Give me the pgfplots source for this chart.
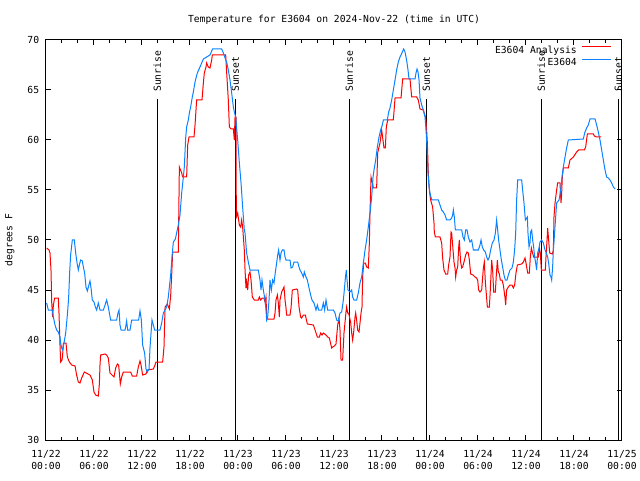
\documentclass[border=0pt]{standalone}
\usepackage{fontspec}
\setmainfont{DejaVu Sans Mono}
\usepackage{pgfplots}
\pgfplotsset{compat=1.18}
\definecolor{anared}{RGB}{255,0,0}
\definecolor{obsblue}{RGB}{10,130,255}

\begin{document}
\fontsize{9.7pt}{12pt}\selectfont
\begin{tikzpicture}
\useasboundingbox (0,0) rectangle (640pt,480pt);
\begin{axis}[
  at={(46pt,40pt)}, anchor=south west,
  scale only axis, width=576pt, height=400pt,
  xmin=0, xmax=72, ymin=30, ymax=70,
  clip=false,
  axis line style={line width=1pt},
  every tick/.style={black, line width=1pt},
  major tick length=5pt, minor tick length=3pt,
  xtick={0,6,...,72},
  minor x tick num=2,
  xticklabels={{11/22\\00:00},{11/22\\06:00},{11/22\\12:00},{11/22\\18:00},
               {11/23\\00:00},{11/23\\06:00},{11/23\\12:00},{11/23\\18:00},
               {11/24\\00:00},{11/24\\06:00},{11/24\\12:00},{11/24\\18:00},
               {11/25\\00:00}},
  xticklabel style={align=center, inner sep=0pt, anchor=north, yshift=-10.4pt},
  ytick={30,35,...,70},
  yticklabel style={inner sep=0pt, anchor=east, xshift=-6.7pt},
  /pgf/number format/assume math mode=true,
  title={Temperature for E3604 on 2024-Nov-22 (time in UTC)},
  title style={at={(0.5,1)}, anchor=base, inner sep=0pt, yshift=11.3pt},
  ylabel={degrees F},
  every axis y label/.style={at={(axis description cs:-0.0582,0.5)}, rotate=90, anchor=base, inner sep=0pt},
  legend plot pos=right,
  legend image code/.code={\draw[#1] (0pt,3.5pt) -- (29pt,3.5pt);},
  legend style={at={(1,1)}, anchor=north east, xshift=-10pt, yshift=-4pt,
    draw=none, fill=none, inner sep=0pt, row sep=0pt,
    cells={anchor=east, inner sep=2pt, text height=7pt, text depth=2pt},
    /tikz/every odd column/.append style={column sep=3pt}},
]

% sunrise / sunset markers
\addplot[black, line width=1pt, forget plot] coordinates {(13.91,30) (13.91,64.1)};
\addplot[black, line width=1pt, forget plot] coordinates {(23.66,30) (23.66,64.1)};
\addplot[black, line width=1pt, forget plot] coordinates {(37.91,30) (37.91,64.1)};
\addplot[black, line width=1pt, forget plot] coordinates {(47.54,30) (47.54,64.1)};
\addplot[black, line width=1pt, forget plot] coordinates {(61.91,30) (61.91,64.1)};
\addplot[black, line width=1pt, forget plot] coordinates {(71.54,30) (71.54,64.1)};
\node[rotate=90, anchor=west, inner sep=0pt] at (axis cs:13.91,64.8) {Sunrise};
\node[rotate=90, anchor=west, inner sep=0pt] at (axis cs:23.66,64.8) {Sunset};
\node[rotate=90, anchor=west, inner sep=0pt] at (axis cs:37.91,64.8) {Sunrise};
\node[rotate=90, anchor=west, inner sep=0pt] at (axis cs:47.54,64.8) {Sunset};
\node[rotate=90, anchor=west, inner sep=0pt] at (axis cs:61.91,64.8) {Sunrise};
\node[rotate=90, anchor=west, inner sep=0pt] at (axis cs:71.54,64.8) {Sunset};

% E3604 Analysis
\addplot[anared, line width=1pt] coordinates {
(0.08,49.2)(0.38,49.0)(0.5,48.7)(0.63,46.9)(0.71,43.8)(0.83,42.3)(0.92,43.5)(1.08,44.2)(1.54,44.2)(1.63,42.6)
(1.75,39.5)(1.83,37.8)(2.0,38.0)(2.08,38.5)(2.17,39.7)(2.5,39.7)(2.67,38.3)(2.92,37.8)(3.21,37.5)(3.63,37.4)
(3.83,36.5)(4.04,35.8)(4.25,35.7)(4.46,36.2)(4.79,36.8)(5.5,36.5)(5.79,36.0)(6.0,34.8)(6.21,34.5)(6.54,34.4)
(6.67,35.6)(6.75,37.5)(6.83,38.5)(7.38,38.6)(7.58,38.5)(7.79,38.2)(8.0,36.7)(8.5,36.3)(8.71,37.2)(8.92,37.6)
(9.08,37.5)(9.17,36.7)(9.29,35.6)(9.46,36.3)(9.67,36.8)(10.58,36.8)(10.79,36.4)(11.33,36.4)(11.54,37.3)(11.75,37.9)
(11.88,37.5)(12.08,36.5)(12.5,36.6)(12.67,37.0)(13.42,37.1)(13.63,37.5)(13.75,37.8)(14.58,37.8)(14.75,39.3)(14.88,43.3)
(15.17,43.6)(15.42,43.1)(15.58,44.4)(15.71,46.5)(15.83,48.8)(16.54,48.8)(16.67,57.3)(16.96,56.7)(17.08,56.3)(17.58,56.3)
(17.71,59.5)(17.88,60.3)(18.5,60.3)(18.63,61.5)(18.83,64.0)(19.5,64.0)(19.67,65.7)(19.79,66.7)(20.0,67.3)(20.08,67.7)
(20.29,67.3)(20.5,67.2)(20.71,68.0)(20.79,68.5)(22.46,68.5)(22.58,66.8)(22.79,64.0)(22.92,61.3)(23.13,61.1)(23.42,61.1)
(23.54,60.0)(23.63,62.3)(23.75,62.3)(23.79,52.3)(23.96,52.7)(24.17,51.5)(24.33,51.3)(24.46,52.0)(24.58,51.3)(24.79,49.0)
(24.88,47.0)(25.0,45.2)(25.08,45.8)(25.21,45.0)(25.33,46.5)(25.5,46.8)(25.63,46.0)(25.79,44.3)(26.04,44.0)(26.54,44.0)
(26.67,44.3)(26.83,44.0)(27.04,44.2)(27.25,44.2)(27.38,43.8)(27.5,44.3)(27.58,42.5)(27.71,42.1)(28.5,42.1)(28.63,42.7)
(28.75,44.0)(28.92,44.5)(29.04,43.7)(29.17,42.3)(29.25,44.0)(29.46,44.8)(29.58,45.0)(29.75,45.3)(29.88,44.0)(30.0,43.2)
(30.08,42.5)(30.5,42.5)(30.63,43.2)(30.79,45.0)(31.33,45.1)(31.46,45.0)(31.63,43.3)(31.83,42.3)(31.96,42.2)(32.17,42.5)
(32.42,42.5)(32.5,42.2)(32.67,41.6)(33.42,41.5)(33.63,41.0)(33.92,40.3)(34.17,40.3)(34.33,40.7)(34.5,40.5)(34.67,40.7)
(35.0,40.5)(35.21,40.3)(35.42,40.2)(35.71,39.2)(35.83,39.3)(36.04,39.4)(36.25,39.6)(36.46,41.5)(36.63,42.2)(36.75,41.0)
(36.88,38.0)(37.08,38.0)(37.25,40.7)(37.38,41.8)(37.5,42.8)(37.58,43.3)(37.71,42.7)(37.83,42.7)(37.96,42.2)(38.08,41.8)
(38.21,40.7)(38.33,40.0)(38.46,40.8)(38.63,42.3)(38.71,42.7)(38.83,42.0)(38.96,41.0)(39.13,40.8)(39.25,41.7)(39.38,42.7)
(39.5,43.3)(39.58,46.3)(39.71,47.7)(39.92,47.7)(40.08,47.3)(40.29,47.2)(40.42,49.7)(40.5,52.7)(40.63,56.3)(40.79,55.8)
(40.92,55.2)(41.33,55.2)(41.46,58.7)(41.63,59.3)(41.75,59.7)(41.96,61.0)(42.25,59.2)(42.42,59.2)(42.54,61.3)(42.71,62.0)
(43.42,62.0)(43.63,64.2)(44.38,64.2)(44.58,66.1)(45.5,66.1)(45.71,64.3)(46.33,64.3)(46.54,64.0)(46.75,63.1)(47.17,63.0)
(47.46,62.2)(47.58,61.0)(47.67,59.7)(47.79,56.7)(47.92,55.0)(48.08,54.0)(48.33,53.3)(48.5,51.7)(48.54,50.8)(48.67,50.3)
(49.25,50.3)(49.46,49.7)(49.58,48.2)(49.75,47.0)(49.96,46.6)(50.21,46.6)(50.33,47.5)(50.5,48.3)(50.63,50.8)(50.71,50.7)
(50.83,49.5)(51.0,47.8)(51.13,47.2)(51.21,46.3)(51.33,47.0)(51.46,47.3)(51.58,49.2)(51.67,50.0)(51.75,48.8)(51.83,47.8)
(51.96,47.2)(52.08,47.3)(52.25,47.8)(52.46,48.5)(52.63,48.8)(52.79,48.7)(52.92,48.0)(53.08,46.6)(53.38,46.5)(53.63,46.3)
(53.83,46.2)(53.96,46.0)(54.08,45.0)(54.25,44.8)(54.46,45.0)(54.67,47.2)(54.79,47.8)(54.92,45.8)(55.08,44.2)(55.17,43.3)
(55.42,43.3)(55.54,45.0)(55.71,48.0)(55.83,47.0)(55.96,44.8)(56.17,44.8)(56.29,46.5)(56.42,48.0)(56.54,46.8)(56.67,46.6)
(56.79,46.0)(57.0,46.0)(57.17,45.5)(57.38,44.2)(57.46,43.5)(57.58,45.0)(57.79,45.3)(58.0,45.5)(58.25,45.5)(58.42,45.2)
(58.58,45.5)(58.75,46.7)(58.92,47.5)(59.46,47.6)(59.67,47.8)(59.88,48.2)(60.0,47.7)(60.21,46.7)(60.42,46.7)(60.54,48.3)
(60.67,49.2)(60.79,48.8)(60.96,48.3)(61.54,48.3)(61.67,49.2)(61.79,48.7)(61.92,47.0)(62.42,47.0)(62.5,48.3)(62.63,50.0)
(62.71,51.2)(62.83,50.0)(62.96,48.7)(63.29,48.6)(63.42,49.0)(63.5,52.3)(63.63,53.7)(63.83,55.0)(63.96,55.7)(64.25,55.7)
(64.38,53.7)(64.46,54.7)(64.54,56.3)(64.67,57.2)(65.29,57.2)(65.5,58.0)(65.92,58.3)(66.33,58.8)(66.58,59.0)(67.29,59.0)
(67.46,59.3)(67.67,60.6)(68.42,60.6)(68.54,60.4)(68.83,60.3)(69.38,60.3)
};
\addlegendentry{E3604 Analysis}

% E3604 observations
\addplot[obsblue, line width=1pt] coordinates {
(0.08,43.7)(0.29,43.0)(0.79,43.0)(0.92,42.3)(1.13,41.5)(1.33,41.0)(1.54,40.8)(1.75,40.3)(1.83,39.7)(1.96,39.2)
(2.08,39.0)(2.25,39.7)(2.46,40.7)(2.67,42.5)(2.83,44.2)(2.96,46.8)(3.08,48.5)(3.29,50.0)(3.54,50.0)(3.71,48.7)
(3.88,47.7)(4.04,47.0)(4.17,47.5)(4.33,48.0)(4.54,47.9)(4.67,47.3)(4.83,46.7)(5.0,45.3)(5.17,44.9)(5.33,45.4)
(5.5,45.9)(5.63,45.2)(5.79,44.0)(6.0,43.8)(6.17,43.3)(6.33,43.0)(6.54,43.7)(6.75,43.0)(7.17,43.0)(7.38,43.5)
(7.58,44.0)(7.79,43.3)(7.92,42.7)(8.08,42.0)(8.83,42.0)(9.0,42.7)(9.13,43.0)(9.25,41.5)(9.38,41.0)(9.88,41.0)
(10.0,41.5)(10.08,41.9)(10.21,41.0)(10.5,41.0)(10.71,42.0)(11.58,42.0)(11.75,42.9)(11.92,42.0)(12.08,39.5)(12.33,38.7)
(12.5,37.1)(12.67,36.8)(12.88,37.1)(13.0,39.2)(13.13,40.7)(13.25,42.0)(13.42,41.5)(13.58,41.0)(14.25,41.0)(14.46,41.7)
(14.67,42.7)(14.88,43.0)(15.08,43.3)(15.29,44.3)(15.58,46.5)(15.75,48.3)(15.92,49.8)(16.17,50.1)(16.33,50.7)(16.54,51.5)
(16.75,52.5)(16.96,54.7)(17.17,56.3)(17.29,57.3)(17.46,60.2)(17.58,61.3)(17.79,62.0)(17.92,62.7)(18.08,63.3)(18.29,64.3)
(18.42,64.8)(18.63,65.8)(18.75,66.2)(18.92,66.7)(19.08,67.0)(19.25,67.3)(19.46,67.7)(19.67,68.1)(20.08,68.3)(20.5,68.5)
(20.71,68.9)(20.83,69.1)(21.96,69.1)(22.17,68.7)(22.38,68.2)(22.58,67.8)(22.79,67.0)(23.0,66.0)(23.21,64.7)(23.42,63.3)
(23.54,62.8)(23.71,62.3)(23.96,60.0)(24.17,57.7)(24.38,55.7)(24.58,53.3)(24.79,51.0)(24.88,50.7)(25.08,48.7)(25.29,47.8)
(25.5,47.0)(26.54,47.0)(26.75,46.0)(26.88,45.0)(27.0,46.0)(27.17,45.0)(27.38,44.0)(27.5,43.0)(27.58,42.0)(27.71,42.3)
(27.88,44.0)(28.0,46.0)(28.17,45.0)(28.33,46.0)(28.5,45.7)(28.67,46.8)(28.83,47.7)(28.96,48.5)(29.08,49.0)(29.25,48.0)
(29.38,48.7)(29.54,49.0)(29.75,49.0)(29.88,48.3)(30.0,48.0)(30.5,48.0)(30.63,47.2)(30.83,47.3)(31.0,47.8)(31.46,47.8)
(31.63,47.3)(31.75,47.0)(31.96,46.7)(32.17,46.3)(32.29,46.8)(32.5,46.3)(32.67,46.0)(32.88,45.2)(33.08,44.5)(33.25,44.0)
(33.5,43.7)(33.75,43.0)(33.92,43.5)(34.08,43.0)(34.46,43.0)(34.67,43.7)(34.83,43.0)(35.0,44.0)(35.21,43.0)(35.92,43.0)
(36.13,42.7)(36.33,42.0)(36.54,41.9)(36.75,42.7)(36.96,42.8)(37.17,44.0)(37.29,45.0)(37.42,46.2)(37.54,47.0)(37.63,46.0)
(37.75,45.0)(38.0,44.8)(38.21,45.0)(38.33,44.3)(38.5,44.0)(38.83,44.0)(39.04,44.7)(39.25,45.7)(39.46,46.3)(39.67,47.7)
(39.88,49.0)(40.08,50.0)(40.29,51.3)(40.5,52.7)(40.71,54.3)(40.88,56.3)(41.0,57.0)(41.21,58.0)(41.42,59.3)(41.63,60.3)
(41.83,61.0)(42.04,61.5)(42.17,62.0)(42.67,62.0)(42.83,62.8)(43.0,63.2)(43.21,64.0)(43.42,65.0)(43.63,66.0)(43.83,67.0)
(44.04,67.8)(44.25,68.3)(44.38,68.5)(44.54,68.8)(44.71,69.1)(44.88,68.8)(45.0,68.3)(45.13,67.7)(45.25,67.0)(45.38,66.1)
(46.13,66.1)(46.25,66.7)(46.38,67.1)(46.5,66.8)(46.63,66.0)(46.75,64.2)(46.96,63.5)(47.17,63.0)(47.38,62.3)(47.5,61.0)
(47.58,60.0)(47.67,58.3)(47.75,56.7)(47.88,55.3)(48.0,54.7)(48.21,54.0)(49.04,54.0)(49.25,53.5)(49.46,53.0)(49.67,52.8)
(49.88,52.5)(50.08,52.0)(50.5,52.0)(50.71,52.2)(50.83,52.5)(50.92,53.0)(51.04,52.3)(51.17,51.0)(51.42,51.0)(51.96,51.0)
(52.13,50.3)(52.29,50.0)(52.46,51.0)(52.63,51.0)(52.79,50.3)(53.0,49.8)(53.21,50.0)(53.42,49.0)(54.04,49.0)(54.25,49.5)
(54.38,50.0)(54.54,49.3)(54.71,49.0)(54.92,48.8)(55.08,48.3)(55.25,48.0)(55.42,48.3)(55.58,49.0)(55.79,49.7)(56.0,50.0)
(56.17,50.7)(56.33,52.0)(56.46,51.0)(56.58,50.0)(56.75,49.0)(56.92,48.0)(57.08,47.3)(57.25,46.5)(57.42,46.0)(57.63,46.0)
(57.79,46.5)(58.0,47.0)(58.25,47.2)(58.42,47.8)(58.58,49.0)(58.71,50.7)(58.83,54.0)(58.96,56.0)(59.46,56.0)(59.58,55.0)
(59.75,53.7)(59.92,52.0)(60.17,52.3)(60.25,50.7)(60.38,49.3)(60.5,49.7)(60.58,50.8)(60.71,51.0)(60.83,50.0)(60.96,49.3)
(61.08,48.3)(61.21,47.7)(61.33,47.0)(61.46,48.7)(61.63,49.2)(61.75,49.8)(61.96,50.0)(62.17,49.7)(62.38,49.0)(62.54,48.7)
(62.71,48.3)(62.83,47.7)(63.0,46.5)(63.13,46.3)(63.21,46.0)(63.33,47.3)(63.42,49.0)(63.54,50.3)(63.71,52.3)(63.83,53.7)
(64.13,54.0)(64.33,55.0)(64.5,56.3)(64.67,57.3)(64.88,58.3)(65.08,59.2)(65.29,60.0)(67.17,60.1)(67.33,60.7)(67.58,61.2)
(67.79,61.5)(68.0,62.1)(68.63,62.1)(68.83,61.5)(69.04,60.8)(69.25,60.0)(69.46,59.0)(69.67,58.0)(69.88,57.0)(70.08,56.3)
(70.29,56.2)(70.5,56.0)(70.71,55.7)(70.92,55.3)(71.13,55.1)
};
\addlegendentry{E3604}

\end{axis}
\end{tikzpicture}
\end{document}
